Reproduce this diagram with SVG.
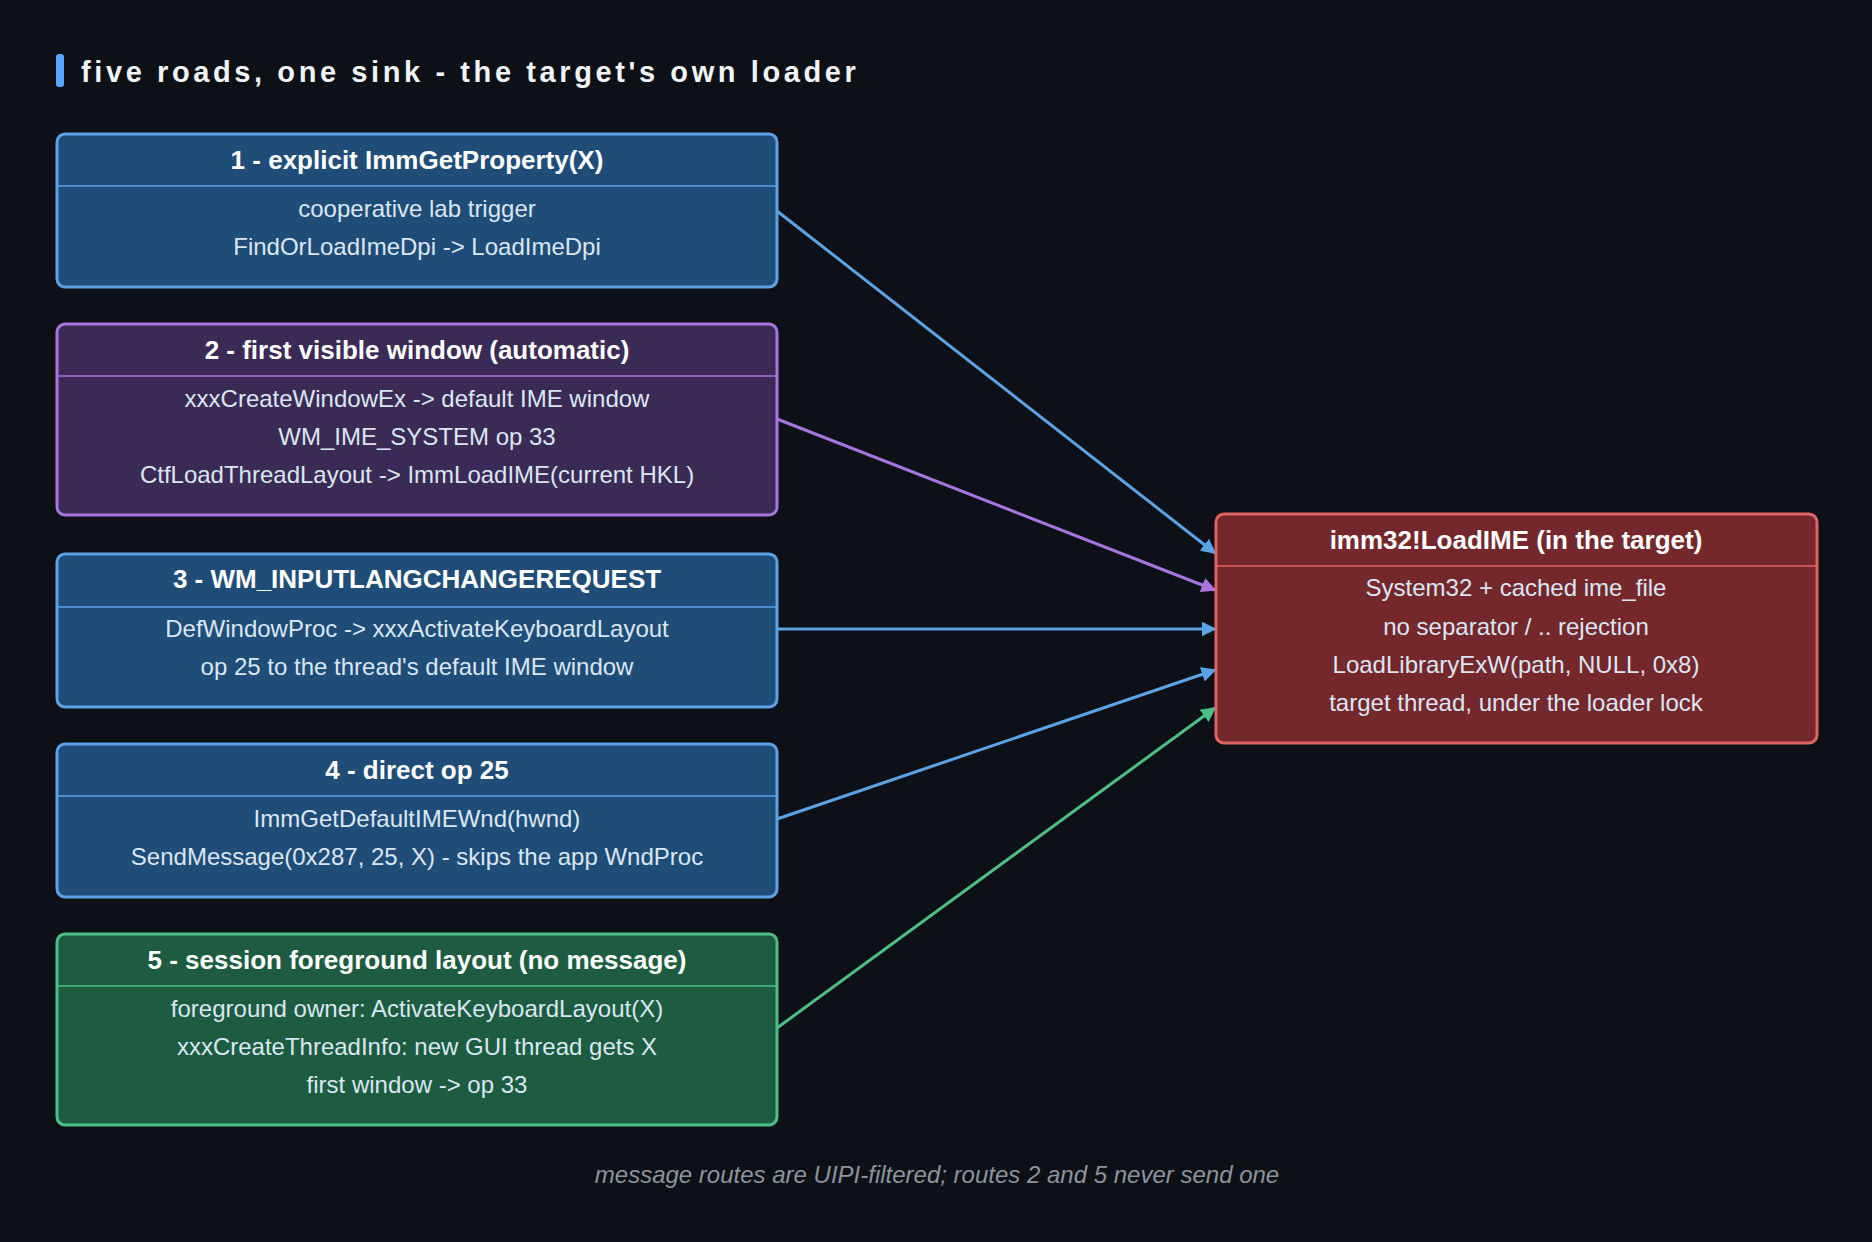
<svg xmlns="http://www.w3.org/2000/svg" width="1872" height="1242" viewBox="0 0 1872 1242">
<defs>
<style>
.h{font-family:"Liberation Sans",Arial,sans-serif;font-weight:bold;font-size:26px;fill:#ffffff;text-anchor:middle;dominant-baseline:central}
.b{font-family:"Liberation Sans",Arial,sans-serif;font-size:24px;fill:#dbe6f3;text-anchor:middle;dominant-baseline:central}
.c{stroke-width:3;fill:none}
</style>
<marker id="ab" viewBox="0 0 10 10" refX="9" refY="5" markerWidth="5" markerHeight="5" orient="auto"><path d="M0,0L10,5L0,10z" fill="#5ba3e6"/></marker>
<marker id="ap" viewBox="0 0 10 10" refX="9" refY="5" markerWidth="5" markerHeight="5" orient="auto"><path d="M0,0L10,5L0,10z" fill="#a774e0"/></marker>
<marker id="ag" viewBox="0 0 10 10" refX="9" refY="5" markerWidth="5" markerHeight="5" orient="auto"><path d="M0,0L10,5L0,10z" fill="#4cbf86"/></marker>
</defs>
<rect width="1872" height="1242" fill="#0d1117"/>
<rect x="56" y="54" width="8" height="33" rx="3" fill="#58a6ff"/>
<text x="81" y="72" font-family="Liberation Sans,Arial,sans-serif" font-weight="bold" font-size="29" letter-spacing="3.6" fill="#f0f4f8" dominant-baseline="central">five roads, one sink - the target's own loader</text>
<g id="connectors">
<line class="c" x1="777" y1="211" x2="1215" y2="553" stroke="#5ba3e6" marker-end="url(#ab)"/>
<line class="c" x1="777" y1="419" x2="1215" y2="590" stroke="#a774e0" marker-end="url(#ap)"/>
<line class="c" x1="777" y1="629" x2="1215" y2="629" stroke="#5ba3e6" marker-end="url(#ab)"/>
<line class="c" x1="777" y1="819" x2="1215" y2="670" stroke="#5ba3e6" marker-end="url(#ab)"/>
<line class="c" x1="777" y1="1028" x2="1215" y2="708" stroke="#4cbf86" marker-end="url(#ag)"/>
</g>
<g id="n1">
<rect x="57" y="134" width="720" height="153" rx="8" fill="#1f4d77" stroke="#5ba3e6" stroke-width="3"/>
<line x1="57" y1="186" x2="777" y2="186" stroke="#5ba3e6" stroke-width="1.5"/>
<text class="h" x="417" y="160">1 - explicit ImmGetProperty(X)</text>
<text class="b" x="417" y="208">cooperative lab trigger</text>
<text class="b" x="417" y="246">FindOrLoadImeDpi -&gt; LoadImeDpi</text>
</g>
<g id="n2">
<rect x="57" y="324" width="720" height="191" rx="8" fill="#3b2a55" stroke="#a774e0" stroke-width="3"/>
<line x1="57" y1="376" x2="777" y2="376" stroke="#a774e0" stroke-width="1.5"/>
<text class="h" x="417" y="350">2 - first visible window (automatic)</text>
<text class="b" x="417" y="398">xxxCreateWindowEx -&gt; default IME window</text>
<text class="b" x="417" y="436">WM_IME_SYSTEM op 33</text>
<text class="b" x="417" y="474">CtfLoadThreadLayout -&gt; ImmLoadIME(current HKL)</text>
</g>
<g id="n3">
<rect x="57" y="554" width="720" height="153" rx="8" fill="#1f4d77" stroke="#5ba3e6" stroke-width="3"/>
<line x1="57" y1="607" x2="777" y2="607" stroke="#5ba3e6" stroke-width="1.5"/>
<text class="h" x="417" y="579">3 - WM_INPUTLANGCHANGEREQUEST</text>
<text class="b" x="417" y="628">DefWindowProc -&gt; xxxActivateKeyboardLayout</text>
<text class="b" x="417" y="666">op 25 to the thread's default IME window</text>
</g>
<g id="n4">
<rect x="57" y="744" width="720" height="153" rx="8" fill="#1f4d77" stroke="#5ba3e6" stroke-width="3"/>
<line x1="57" y1="796" x2="777" y2="796" stroke="#5ba3e6" stroke-width="1.5"/>
<text class="h" x="417" y="770">4 - direct op 25</text>
<text class="b" x="417" y="818">ImmGetDefaultIMEWnd(hwnd)</text>
<text class="b" x="417" y="856">SendMessage(0x287, 25, X) - skips the app WndProc</text>
</g>
<g id="n5">
<rect x="57" y="934" width="720" height="191" rx="8" fill="#1d5c40" stroke="#4cbf86" stroke-width="3"/>
<line x1="57" y1="986" x2="777" y2="986" stroke="#4cbf86" stroke-width="1.5"/>
<text class="h" x="417" y="960">5 - session foreground layout (no message)</text>
<text class="b" x="417" y="1008">foreground owner: ActivateKeyboardLayout(X)</text>
<text class="b" x="417" y="1046">xxxCreateThreadInfo: new GUI thread gets X</text>
<text class="b" x="417" y="1084">first window -&gt; op 33</text>
</g>
<g id="target">
<rect x="1216" y="514" width="601" height="229" rx="8" fill="#74282c" stroke="#e06464" stroke-width="3"/>
<line x1="1216" y1="566" x2="1817" y2="566" stroke="#e06464" stroke-width="1.5"/>
<text class="h" x="1516" y="540">imm32!LoadIME (in the target)</text>
<text class="b" x="1516" y="587">System32 + cached ime_file</text>
<text class="b" x="1516" y="626">no separator / .. rejection</text>
<text class="b" x="1516" y="664">LoadLibraryExW(path, NULL, 0x8)</text>
<text class="b" x="1516" y="702">target thread, under the loader lock</text>
</g>
<text x="937" y="1174" font-family="Liberation Sans,Arial,sans-serif" font-style="italic" font-size="24" fill="#8b949e" text-anchor="middle" dominant-baseline="central">message routes are UIPI-filtered; routes 2 and 5 never send one</text>
</svg>
